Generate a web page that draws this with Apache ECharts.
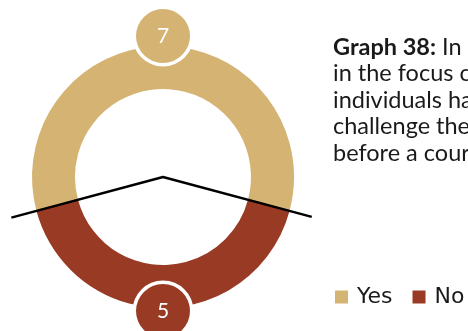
<!DOCTYPE html>
<html>
<head>
<meta charset="utf-8">
<script src="https://cdn.jsdelivr.net/npm/echarts@6/dist/echarts.min.js"></script>
<style>html,body{margin:0;padding:0;background:#fff}#c{width:468px;height:331px}</style>
</head>
<body>
<div id="c"></div>
<script>
var categories = ['Yes', 'No'];
var values = [7, 5];
var colors = ['#D4B373', '#993A24'];
var titleBold = 'Graph 38:';
var titleLines = [
  ' In how many of the cases',
  'in the focus countries have',
  'individuals had the opportunity to',
  'challenge the legality of detention',
  'before a court?'
];

var total = values[0] + values[1];
var yesSweep = 360 * values[0] / total;
var startAngle = 90 + yesSweep / 2;          // Yes centred at the top
var leftBoundary = startAngle;               // Yes/No boundary on the left
var rightBoundary = startAngle - yesSweep;   // Yes/No boundary on the right
if (rightBoundary < 0) rightBoundary += 360;

var chart = echarts.init(document.getElementById('c'), null, {renderer: 'canvas'});
var pieData = categories.map(function (c, i) {
  return {name: c, value: values[i], itemStyle: {color: colors[i]}};
});
var labelData = categories.map(function (c, i) {
  return {
    name: c, value: values[i],
    itemStyle: {color: 'rgba(0,0,0,0)'},
    label: {backgroundColor: colors[i]}
  };
});

var titleText = '{b|' + titleBold + '}{n|' + titleLines[0] + '}\n' +
  titleLines.slice(1).map(function (l) { return '{n|' + l + '}'; }).join('\n');

chart.setOption({
  animation: false,
  title: {
    left: 333, top: 34, padding: 0,
    text: titleText,
    textStyle: {
      rich: {
        b: {fontFamily: 'Lato', fontSize: 23.5, fontWeight: 'bold', color: '#1a1a1a', lineHeight: 26.5},
        n: {fontFamily: 'Lato', fontSize: 23.5, fontWeight: 'normal', color: '#1a1a1a', lineHeight: 26.5}
      }
    }
  },
  legend: {
    left: 335, top: 286, padding: 0,
    itemWidth: 13, itemHeight: 13, itemGap: 20,
    icon: 'rect',
    textStyle: {fontFamily: 'DejaVu Sans', fontSize: 22, color: '#1a1a1a', padding: [0, 0, 0, 4]},
    data: categories
  },
  polar: {center: [163, 177], radius: 160},
  radiusAxis: {type: 'value', min: 0, max: 160, show: false, axisLine: {show: false}, splitLine: {show: false}, axisLabel: {show: false}, axisTick: {show: false}},
  angleAxis: {type: 'value', min: 0, max: 360, startAngle: 0, clockwise: false, show: false, axisLine: {show: false}, splitLine: {show: false}, axisLabel: {show: false}, axisTick: {show: false}},
  series: [
    {
      type: 'pie', name: 'ring',
      center: [163, 177], radius: [88, 131],
      startAngle: startAngle, clockwise: true,
      label: {show: false}, labelLine: {show: false},
      silent: true, emphasis: {disabled: true},
      data: pieData, z: 1
    },
    {
      type: 'line',
      coordinateSystem: 'polar',
      data: [[157, leftBoundary], [0, leftBoundary], [154, rightBoundary]],
      symbol: 'none', silent: true,
      lineStyle: {color: '#000', width: 2.5},
      z: 5
    },
    {
      type: 'pie', name: 'labels',
      center: [163, 177], radius: [132, 142],
      startAngle: startAngle, clockwise: true,
      silent: true, emphasis: {disabled: true},
      labelLine: {show: false},
      label: {
        show: true, position: 'inside',
        formatter: '{c}',
        color: '#fff', fontFamily: 'Lato', fontSize: 21,
        width: 54, height: 54, lineHeight: 54, align: 'center', verticalAlign: 'middle',
        borderRadius: 30, borderColor: '#fff', borderWidth: 3.5
      },
      labelLayout: function (p) { return {dy: p.dataIndex === 0 ? -1 : -6}; },
      data: labelData, z: 10
    }
  ]
});
</script>
</body>
</html>
